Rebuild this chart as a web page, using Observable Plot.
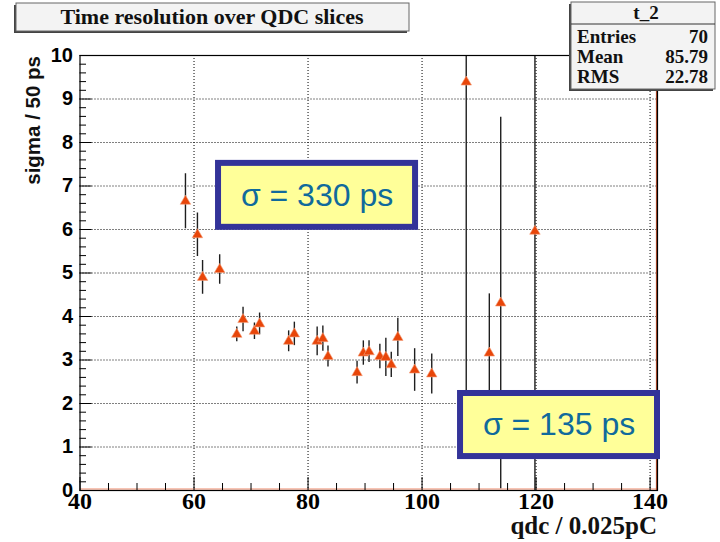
<!DOCTYPE html>
<html><head><meta charset="utf-8">
<script src="https://cdn.jsdelivr.net/npm/d3@7"></script>
<script src="https://cdn.jsdelivr.net/npm/@observablehq/plot@0.6"></script>
<style>body{margin:0;background:#fff;} #chart{position:relative;width:720px;height:542px;}</style>
</head><body><div id="chart"></div>
<script>
// ---- data ----
const qdc      = [58.5, 60.6, 61.5, 64.5, 67.5, 68.6, 70.6, 71.5, 76.6, 77.6, 81.6, 82.6, 83.5, 88.6, 89.7, 90.7, 92.6, 93.65, 94.6, 95.75, 98.7, 101.7, 107.75, 111.8, 113.8, 119.8];
const sigma    = [6.65, 5.88, 4.90, 5.08, 3.59, 3.93, 3.66, 3.83, 3.43, 3.60, 3.43, 3.49, 3.08, 2.71, 3.16, 3.19, 3.08, 3.06, 2.89, 3.52, 2.77, 2.68, 9.39, 3.16, 4.31, 5.96];
const sigmaErr = [0.63, 0.50, 0.39, 0.34, 0.17, 0.28, 0.19, 0.25, 0.24, 0.27, 0.33, 0.29, 0.24, 0.26, 0.28, 0.25, 0.28, 0.44, 0.29, 0.44, 0.49, 0.46, 8.0, 1.36, 4.27, 6.5];
const xTicks = [40, 60, 80, 100, 120, 140];
const yTicks = [0, 1, 2, 3, 4, 5, 6, 7, 8, 9, 10];
const titleText = "Time resolution over QDC slices";
const xTitle = "qdc / 0.025pC";
const yTitle = "sigma / 50 ps";
const statsName = "t_2";
const statLabels = ["Entries", "Mean", "RMS"];
const statValues = ["70", "85.79", "22.78"];
const annotText = ["σ = 330 ps", "σ = 135 ps"];
const annotX1 = [64.3, 106.75], annotX2 = [98.86, 141.3];
const annotY1 = [6.05, 0.78],  annotY2 = [7.52, 2.23];

// ---- build ----
const points = qdc.map((x, i) => ({x, y: sigma[i], lo: sigma[i] - sigmaErr[i], hi: sigma[i] + sigmaErr[i]}));
const annots = annotText.map((t, i) => ({t, x1: annotX1[i], x2: annotX2[i], y1: annotY1[i], y2: annotY2[i],
  cx: (annotX1[i] + annotX2[i]) / 2, cy: (annotY1[i] + annotY2[i]) / 2}));
const xMinor = d3.range(40, 141, 5).filter(v => v % 20 !== 0);
const yMinor = d3.range(0, 50).map(i => i / 5).filter(v => !Number.isInteger(v) && v < 10);
const yGrid = yTicks.filter(v => v > 0 && v < 10);
const xGrid = xTicks.filter(v => v > 40);
const XMAX = 141.3;

const plot = Plot.plot({
  width: 720, height: 542,
  marginLeft: 79.5, marginRight: 63, marginTop: 55, marginBottom: 52,
  x: {domain: [40, XMAX], label: null},
  y: {domain: [0, 10], label: null},
  style: {background: "transparent", overflow: "visible"},
  marks: [
    Plot.ruleX(xGrid, {stroke: "#000", strokeDasharray: "1,2", strokeWidth: 1}),
    Plot.ruleY(yGrid, {stroke: "#000", strokeDasharray: "1,2", strokeWidth: 1}),
    Plot.ruleY([0], {stroke: "#f08a6a", strokeWidth: 1.2, dy: -1.5}),
    Plot.ruleX([XMAX], {stroke: "#b04a2a", strokeWidth: 1.2, dx: -1}),
    Plot.ruleX(points, {x: "x", y1: "lo", y2: "hi", stroke: "#1e1e1e", strokeWidth: 1.4, clip: true}),
    Plot.dot(points, {x: "x", y: "y", symbol: "triangle", r: 3.9, fill: "#e8460a", stroke: "#f5a07a", strokeWidth: 0.6}),
    Plot.frame({stroke: "#000", strokeWidth: 1.2}),
    Plot.axisY(yTicks, {tickSize: 0, tickPadding: 7, fontSize: 20, fontFamily: "Liberation Sans", fontWeight: "bold", tickFormat: d => String(d), label: null}),
    Plot.axisY(yTicks, {tickSize: 12, dx: 12, tickFormat: () => "", label: null}),
    Plot.axisY(yMinor, {tickSize: 6.5, dx: 6.5, tickFormat: () => "", label: null}),
    Plot.axisX(xTicks, {tickSize: 0, tickPadding: 1, fontSize: 24, fontFamily: "Liberation Serif", fontWeight: "bold", tickFormat: d => String(d), label: null}),
    Plot.axisX(xTicks, {tickSize: 13, dy: -13, tickFormat: () => "", label: null}),
    Plot.axisX(xMinor, {tickSize: 7, dy: -7, tickFormat: () => "", label: null}),
    Plot.rect(annots, {x1: "x1", x2: "x2", y1: "y1", y2: "y2", fill: "#ffff99", stroke: "#333399", strokeWidth: 6}),
    Plot.text(annots, {x: "cx", y: "cy", text: "t", fill: "#106a9c", fontSize: 32, fontFamily: "Liberation Sans"})
  ]
});
document.getElementById("chart").appendChild(plot);

// ---- decorations (title, stats box, axis titles) ----
const svg = d3.select(plot);
const g = svg.append("g").attr("text-anchor", "start");
const serif = sel => sel.attr("font-family", "Liberation Serif").attr("font-weight", "bold").attr("fill", "#111");
// title box with shadow (left-bottom)
g.append("rect").attr("x", 14).attr("y", 5).attr("width", 393).attr("height", 28).attr("fill", "#444");
g.append("rect").attr("x", 16).attr("y", 3).attr("width", 393).attr("height", 28).attr("fill", "#f3f3f3").attr("stroke", "#666").attr("stroke-width", 1);
g.append("text").attr("x", 212).attr("y", 24).attr("text-anchor", "middle").attr("font-size", 22).call(serif).text(titleText);
// stats box
g.append("rect").attr("x", 569).attr("y", 4).attr("width", 144).attr("height", 87).attr("fill", "#444");
g.append("rect").attr("x", 571).attr("y", 2).attr("width", 144).attr("height", 87).attr("fill", "#f3f3f3").attr("stroke", "#666").attr("stroke-width", 1);
g.append("line").attr("x1", 571).attr("x2", 715).attr("y1", 24).attr("y2", 24).attr("stroke", "#333");
g.append("text").attr("x", 646).attr("y", 19).attr("text-anchor", "middle").attr("font-size", 19).call(serif).text(statsName);
statLabels.forEach((s, i) => {
  g.append("text").attr("x", 577).attr("y", 43 + i * 20).attr("text-anchor", "start").attr("font-size", 19).call(serif).text(s);
  g.append("text").attr("x", 708).attr("y", 43 + i * 20).attr("text-anchor", "end").attr("font-size", 19).call(serif).text(statValues[i]);
});
// axis titles
g.append("text").attr("transform", "translate(40,56) rotate(-90)").attr("text-anchor", "end")
  .attr("font-family", "Liberation Sans").attr("font-weight", "bold").attr("font-size", 20.5).attr("fill", "#111").text(yTitle);
g.append("text").attr("x", 657).attr("y", 534).attr("text-anchor", "end").attr("font-size", 25).call(serif).text(xTitle);
</script>
</body></html>
